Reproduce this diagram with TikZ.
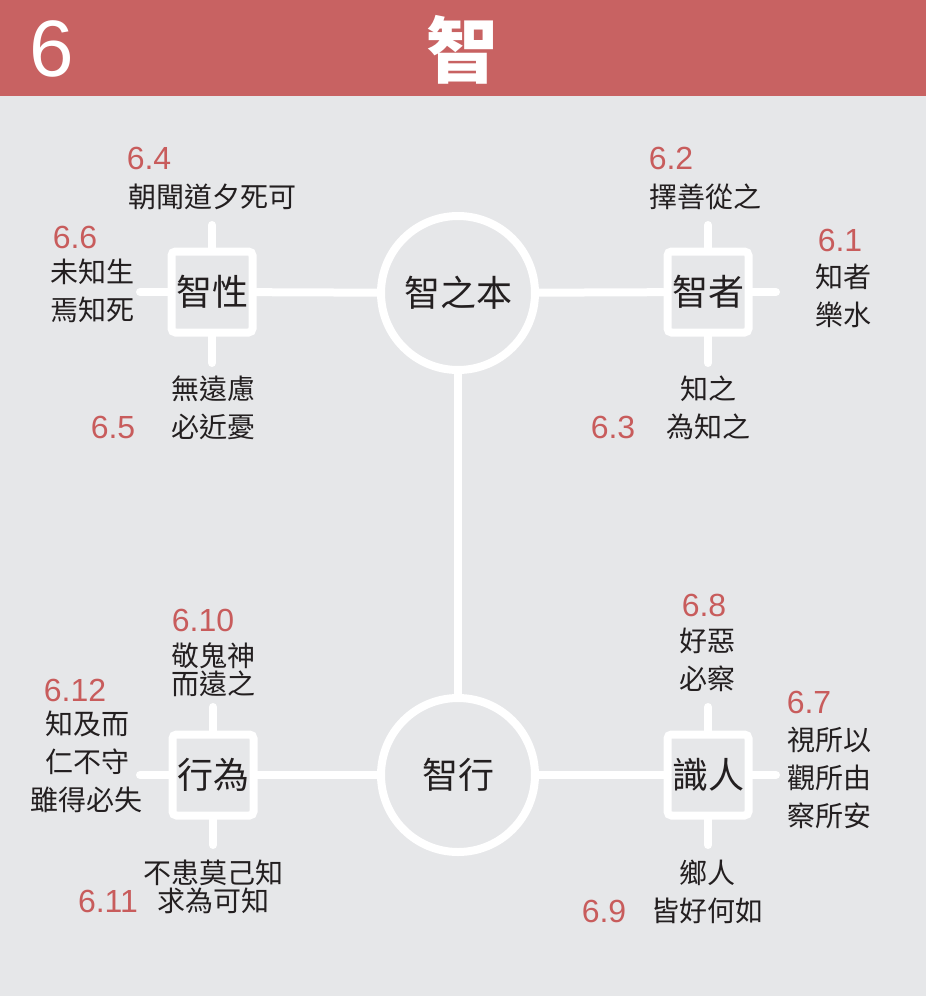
\documentclass[tikz,border=0pt]{standalone}
\usepackage{fontspec}
\newfontfamily\cjk{Noto Sans CJK TC}
\newfontfamily\numf{Liberation Sans}
\usetikzlibrary{positioning}
\definecolor{bandred}{HTML}{C86262}
\definecolor{paper}{HTML}{E6E7E9}
\definecolor{numred}{HTML}{C85C5C}
\definecolor{ink}{HTML}{231F20}

\begin{document}
\begin{tikzpicture}[
    x=0.5pt, y=-0.5pt,
    link/.style={white, line width=4pt, line cap=round},
    hub/.style={circle, draw=white, line width=4pt, minimum size=77pt,
                inner sep=0pt, font=\cjk\fontsize{18}{20}\selectfont, text=ink},
    sq/.style={rectangle, draw=white, line width=4pt, rounded corners=2pt,
               minimum size=40.5pt, inner sep=0pt,
               font=\cjk\fontsize{18}{20}\selectfont, text=ink},
    say/.style={font=\cjk\fontsize{14}{19}\selectfont, text=ink, align=center, inner sep=0pt},
    tight/.style={font=\cjk\fontsize{14}{14}\selectfont},
    num/.style={font=\numf\fontsize{16}{18}\selectfont, text=numred, inner sep=0pt},
]

\useasboundingbox (0,0) rectangle (926,996);
\fill[paper] (0,0) rectangle (926,996);

% ================================================================ header band
\fill[bandred] (0,0) rectangle (926,96);
\node[font=\numf\fontsize{40}{40}\selectfont, text=white, inner sep=0pt] (chap) at (52,49) {6};
\node[font=\cjk\bfseries\fontsize{36}{36}\selectfont, text=white, inner sep=0pt] (title) at (462,50) {智};

% ================================================================ hubs and boxes
\node[hub] (root) at (458,293) {智之本};
\node[hub] (act) at (458,775) {智行};

\node[sq] (nature) at (212,292) {智性};
\node[sq] (wise) at (708,292) {智者};
\node[sq] (deed) at (213,775) {行為};
\node[sq] (judge) at (708,775) {識人};

\draw[link] (root) -- (act);
\draw[link] (nature) -- (root);
\draw[link] (root) -- (wise);
\draw[link] (deed) -- (act);
\draw[link] (act) -- (judge);

% stubs
\coordinate (natureN) at (212,225);
\coordinate (natureS) at (212,363);
\coordinate (natureW) at (140,292);
\coordinate (wiseN) at (708,225);
\coordinate (wiseS) at (708,363);
\coordinate (wiseE) at (776,292);
\coordinate (deedN) at (213,707);
\coordinate (deedS) at (213,845);
\coordinate (deedW) at (140,775);
\coordinate (judgeN) at (708,707);
\coordinate (judgeS) at (708,845);
\coordinate (judgeE) at (776,775);

\foreach \b/\s in {nature/natureN, nature/natureS, nature/natureW,
                   wise/wiseN, wise/wiseS, wise/wiseE,
                   deed/deedN, deed/deedS, deed/deedW,
                   judge/judgeN, judge/judgeS, judge/judgeE}{
    \draw[link] (\b) -- (\s);
}

% ================================================================ top left
\node[num] (n64) at (149,158) {6.4};
\node[say] (t64) at (212,197) {朝聞道夕死可};
\node[num] (n66) at (75,237) {6.6};
\node[say] (t66) at (92,291) {未知生\\焉知死};
\node[say] (t65) at (213,408) {無遠慮\\必近憂};
\node[num] (n65) at (113,427) {6.5};

% ================================================================ top right
\node[num] (n62) at (671,158) {6.2};
\node[say] (t62) at (705,197) {擇善從之};
\node[num] (n61) at (840,240) {6.1};
\node[say] (t61) at (843,296) {知者\\樂水};
\node[say] (t63) at (708,408) {知之\\為知之};
\node[num] (n63) at (613,427) {6.3};

% ================================================================ bottom left
\node[num] (n610) at (203,620) {6.10};
\node[say, tight] (t610) at (213,670) {敬鬼神\\而遠之};
\node[num] (n612) at (75,690) {6.12};
\node[say] (t612) at (87,762) {知及而\\仁不守\\雖得必失};
\node[say, tight] (t611) at (213,887) {不患莫己知\\求為可知};
\node[num] (n611) at (108,901) {6.11};

% ================================================================ bottom right
\node[num] (n68) at (704,605) {6.8};
\node[say] (t68) at (707,660) {好惡\\必察};
\node[num] (n67) at (809,702) {6.7};
\node[say] (t67) at (829,778) {視所以\\觀所由\\察所安};
\node[say] (t69) at (707,892) {鄉人\\皆好何如};
\node[num] (n69) at (604,911) {6.9};

\end{tikzpicture}
\end{document}
